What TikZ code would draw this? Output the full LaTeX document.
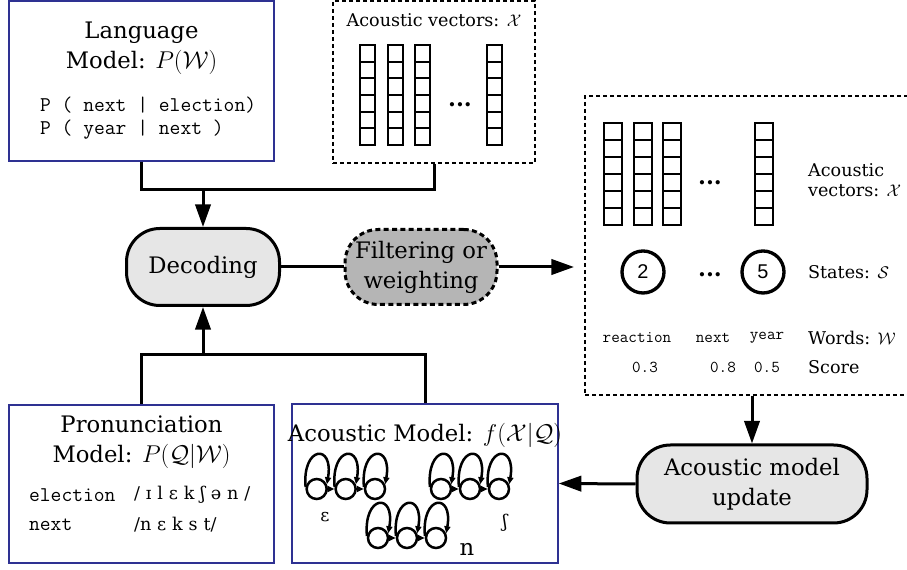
\documentclass[tikz,border=0pt]{standalone}
\usepackage{fontspec}
\setmainfont{DejaVu Serif}
\newfontfamily\asrsansfam{Liberation Sans}
\usetikzlibrary{positioning}
\usetikzlibrary{calc}
\usetikzlibrary{arrows.meta}
\definecolor{ASR_blau}{HTML}{2E3192}
\definecolor{ASR_hell}{HTML}{E6E6E6}
\definecolor{ASR_dunkel}{HTML}{B5B5B5}
\newcommand{\asrmain}{\fontsize{19.4}{25.6}\selectfont}
\newcommand{\asrlabel}{\fontsize{15}{17}\selectfont}
\newcommand{\asrmono}{\ttfamily\fontsize{17.9}{19.6}\selectfont}
\newcommand{\asrmonosmall}{\ttfamily\fontsize{14.2}{15}\selectfont}
\newcommand{\asrdigit}{\asrsansfam\fontsize{17}{17}\selectfont}
\newcommand{\asripa}{\fontsize{15}{15}\selectfont}

\begin{document}
\begin{tikzpicture}[font=\asrmain,
  conn/.style={line width=0.09cm},
  arr/.style={conn, -{Triangle[length=0.68cm,width=0.46cm]}},
  modelbox/.style={draw=ASR_blau, line width=0.045cm, rectangle, minimum width=7.95cm},
  vecbox/.style={draw, line width=0.06cm, dash pattern=on 0.12cm off 0.09cm, rectangle},
  procnode/.style={draw, line width=0.09cm, rectangle, rounded corners=1.0cm, align=center, fill=ASR_hell},
  cell/.style={line width=0.06cm},
  statenode/.style={draw, circle, line width=0.1cm, minimum size=1.26cm, inner sep=0cm, font=\asrdigit},
  hmmstate/.style={draw, circle, line width=0.075cm, minimum size=0.6cm, inner sep=0cm},
  hmmarr/.style={line width=0.075cm, -{Triangle[length=0.21cm,width=0.18cm]}}
]
\useasboundingbox (0cm,0cm) rectangle (27.21cm,-17.1cm);

% language model
\node[modelbox, minimum height=4.8cm] (langmodel) at (4.245cm,-2.43cm) {};
\node[align=center] (langtitle) at ($ (langmodel) + (0cm,0.99cm) $) {Language\\Model: $P(\mathcal{W})$};
\node[anchor=west, align=left, font=\asrmono] (langprobs) at ($ (langmodel) + (-3.165cm,-1.125cm) $) {P ( next | election)\\P ( year | next )};

% acoustic vectors (input)
\node[vecbox, minimum width=6.06cm, minimum height=4.86cm] (topvec) at (13.02cm,-2.46cm) {};
\node[font=\asrlabel] (toptitle) at ($ (topvec) + (0cm,1.86cm) $) {Acoustic vectors: $\mathcal{X}$};
\foreach \x in {11.025,11.865,12.675,14.835}
  \foreach \y in {0,...,5}
    \draw[cell] ({\x-0.225},{-1.35-\y*0.5}) rectangle ++(0.45,-0.5);
\node[font=\asrmain\bfseries] (topdots) at (13.8cm,-3.15cm) {...};

% decoding
\node[procnode, minimum width=4.59cm, minimum height=2.31cm] (decoding) at (6.09cm,-8.01cm) {Decoding};
\node[procnode, fill=ASR_dunkel, dash pattern=on 0.15cm off 0.1cm, minimum width=4.56cm, minimum height=2.25cm] (filtering) at (12.63cm,-8.01cm) {Filtering or\\weighting};

% output of decoding
\node[vecbox, minimum width=9.81cm, minimum height=8.97cm] (outbox) at (22.455cm,-7.365cm) {};
\foreach \x in {18.39,19.29,20.16,22.92}
  \foreach \y in {0,...,5}
    \draw[cell] ({\x-0.27},{-3.69-\y*0.51}) rectangle ++(0.54,-0.51);
\node[font=\asrmain\bfseries] (outdots) at (21.3cm,-5.49cm) {...};
\node[font=\asrlabel, anchor=west, align=left] (veclabel) at (24.12cm,-5.4cm) {Acoustic\\vectors: $\mathcal{X}$};
\node[statenode] (statetwo) at (19.29cm,-8.16cm) {2};
\node[statenode] (statefive) at (22.89cm,-8.16cm) {5};
\node[font=\asrmain\bfseries] (statedots) at (21.3cm,-8.25cm) {...};
\node[font=\asrlabel, anchor=west] (statelabel) at (24.12cm,-8.16cm) {States: $\mathcal{S}$};
\node[font=\asrmonosmall] (wordone) at (19.11cm,-10.14cm) {reaction};
\node[font=\asrmonosmall] (wordtwo) at (21.39cm,-10.14cm) {next};
\node[font=\asrmonosmall] (wordthree) at (23.01cm,-10.14cm) {year};
\node[font=\asrlabel, anchor=west] (wordlabel) at (24.12cm,-10.14cm) {Words: $\mathcal{W}$};
\node[font=\asrmonosmall] (scoreone) at (19.35cm,-11.01cm) {0.3};
\node[font=\asrmonosmall] (scoretwo) at (21.69cm,-11.01cm) {0.8};
\node[font=\asrmonosmall] (scorethree) at (23.01cm,-11.01cm) {0.5};
\node[font=\asrlabel, anchor=west] (scorelabel) at (24.12cm,-11.01cm) {Score};

% acoustic model update
\node[procnode, minimum width=6.9cm, minimum height=2.34cm] (update) at (22.56cm,-14.52cm) {Acoustic model\\update};

% pronunciation model
\node[modelbox, minimum height=4.74cm] (pronmodel) at (4.245cm,-14.52cm) {};
\node[align=center] (prontitle) at ($ (pronmodel) + (0cm,1.26cm) $) {Pronunciation\\Model: $P(\mathcal{Q}|\mathcal{W})$};
\node[anchor=west, font=\asrmono] (pronwordone) at ($ (pronmodel) + (-3.495cm,-0.33cm) $) {election};
\node[anchor=west, font=\asrmono] (pronwordtwo) at ($ (pronmodel) + (-3.495cm,-1.23cm) $) {next};
\node[anchor=west, font=\asripa] (pronipaone) at ($ (pronmodel) + (-0.345cm,-0.33cm) $) {/\hspace{5pt}ɪ\hspace{5pt}l\hspace{5pt}ɛ\hspace{5pt}k\hspace{5pt}ʃ\hspace{5pt}ə\hspace{5pt}n\hspace{5pt}/};
\node[anchor=west, font=\asripa] (pronipatwo) at ($ (pronmodel) + (-0.345cm,-1.23cm) $) {/n\hspace{5pt}ɛ\hspace{5pt}k\hspace{5pt}s\hspace{5pt}t/};

% acoustic model
\node[modelbox, minimum width=7.98cm, minimum height=4.77cm] (acmodel) at (12.75cm,-14.505cm) {};
\node (actitle) at ($ (acmodel) + (0cm,1.455cm) $) {Acoustic Model: $f(\mathcal{X}|\mathcal{Q})$};
\foreach \n/\x/\y in {ea/9.5/-14.67, eb/10.37/-14.67, ec/11.25/-14.67,
                      sa/13.23/-14.67, sb/14.1/-14.67, sc/14.97/-14.67,
                      na/11.34/-16.14, nb/12.21/-16.14, nc/13.08/-16.14}
  \node[hmmstate] (\n) at (\x,\y) {};
\foreach \n in {ea,eb,ec,sa,sb,sc,na,nb,nc}
  \draw[hmmarr] (\n.170) .. controls +(95:1.25cm) and +(80:1.25cm) .. (\n.25);
\foreach \a/\b in {ea/eb, eb/ec, sa/sb, sb/sc, na/nb, nb/nc}
  \draw[hmmarr] (\a) -- (\b);
\node[font=\asripa] (phoneeps) at (9.75cm,-15.51cm) {ɛ};
\node[font=\asripa] (phoneesh) at (15.15cm,-15.69cm) {ʃ};
\node (phonen) at (14.01cm,-16.47cm) {n};

% connectors
\coordinate (topjoin) at (0cm,-5.7cm);
\coordinate (botjoin) at (0cm,-10.65cm);
\draw[conn] (langmodel.south) -- (langmodel.south |- topjoin) -- (topvec.south |- topjoin) -- (topvec.south);
\draw[arr] (decoding.north |- topjoin) -- (decoding.north);
\draw[conn] (pronmodel.north) -- (pronmodel.north |- botjoin) -- (acmodel.north |- botjoin) -- (acmodel.north);
\draw[arr] (decoding.south |- botjoin) -- (decoding.south);
\draw[conn] (decoding.east) -- (filtering.west);
\draw[arr, shorten >=0.3cm] (filtering.east) -- (outbox.west |- filtering.east);
\draw[arr] (outbox.south -| update.north) -- (update.north);
\draw[arr] (update.west) -- (acmodel.east);
\end{tikzpicture}
\end{document}
